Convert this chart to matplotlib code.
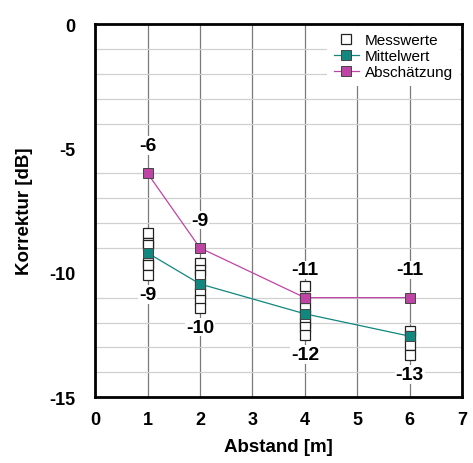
import matplotlib
matplotlib.use("Agg")
import matplotlib.pyplot as plt
import numpy as np

plt.rcParams['font.family'] = ['Liberation Sans', 'DejaVu Sans']
plt.rcParams['axes.unicode_minus'] = False

# Data
abstand = [1, 2, 4, 6]
messwerte = {
    1: [-8.4, -8.8, -8.9, -9.6, -9.7, -10.1],
    2: [-9.6, -9.9, -10.1, -10.5, -10.8, -11.1, -11.4],
    4: [-10.55, -11.0, -11.4, -11.7, -12.0, -12.2, -12.5],
    6: [-12.35, -12.55, -12.9, -13.3],
}
mittelwert = [-9.2, -10.45, -11.65, -12.55]
abschaetzung = [-6, -9, -11, -11]
labels_oben = ["-6", "-9", "-11", "-11"]
labels_unten = ["-9", "-10", "-12", "-13"]

teal = '#10877f'
magenta = '#c044a6'

fig = plt.figure(figsize=(4.73, 4.64), dpi=100)
ax = fig.add_axes([0.201, 0.142, 0.776, 0.804])

ax.set_xlim(0, 7)
ax.set_ylim(-15, 0)
ax.set_xticks(range(0, 8))
ax.set_yticks([0, -5, -10, -15])
ax.set_yticks(range(-15, 1), minor=True)

ax.grid(True, which='major', axis='x', color='#7a7a7a', linewidth=0.9, zorder=0)
ax.grid(True, which='minor', axis='y', color='#d0d0d0', linewidth=0.9, zorder=0)
ax.set_axisbelow(True)

# Messwerte
first = True
for x in abstand:
    vals = messwerte[x]
    ax.plot([x] * len(vals), vals, linestyle='none', marker='s', markersize=7.3,
            markerfacecolor='white', markeredgecolor='#222222', markeredgewidth=0.9,
            zorder=3, label='Messwerte' if first else None)
    first = False

ax.plot(abstand, mittelwert, color=teal, linewidth=0.9, marker='s', markersize=7.5,
        markerfacecolor=teal, markeredgecolor='#444444', markeredgewidth=0.7,
        zorder=4, label='Mittelwert')
ax.plot(abstand, abschaetzung, color=magenta, linewidth=0.9, marker='s', markersize=7.5,
        markerfacecolor=magenta, markeredgecolor='#444444', markeredgewidth=0.7,
        zorder=4, label='Abschätzung')

bbox = dict(facecolor='white', edgecolor='none', pad=0.5)
for x, y, t in zip(abstand, abschaetzung, labels_oben):
    ax.annotate(t, (x, y), xytext=(0, 20), textcoords='offset points',
                ha='center', va='center', fontsize=14, fontweight='bold',
                bbox=bbox, zorder=2.5)
for x, t in zip(abstand, labels_unten):
    ymin = min(messwerte[x])
    ax.annotate(t, (x, ymin), xytext=(0, -14), textcoords='offset points',
                ha='center', va='center', fontsize=14, fontweight='bold',
                bbox=bbox, zorder=2.5)

leg = ax.legend(loc='upper right', frameon=True, fontsize=11, borderaxespad=0.15,
                handlelength=1.6, handletextpad=0.4, labelspacing=0.12,
                fancybox=False, borderpad=0.45, markerscale=1.0)
leg.get_frame().set_edgecolor('none')
leg.get_frame().set_facecolor('white')
leg.get_frame().set_alpha(1)

for s in ax.spines.values():
    s.set_linewidth(2)
    s.set_color('black')

ax.tick_params(axis='x', which='both', length=0, labelsize=13, pad=10)
ax.tick_params(axis='y', which='both', length=0, labelsize=13, pad=14)
for lab in ax.get_xticklabels() + ax.get_yticklabels():
    lab.set_fontweight('bold')

ax.set_xlabel('Abstand [m]', fontsize=13.5, fontweight='bold', labelpad=7)
ax.set_ylabel('Korrektur [dB]', fontsize=13.5, fontweight='bold', labelpad=12)

fig.savefig('out.png', dpi=100)
